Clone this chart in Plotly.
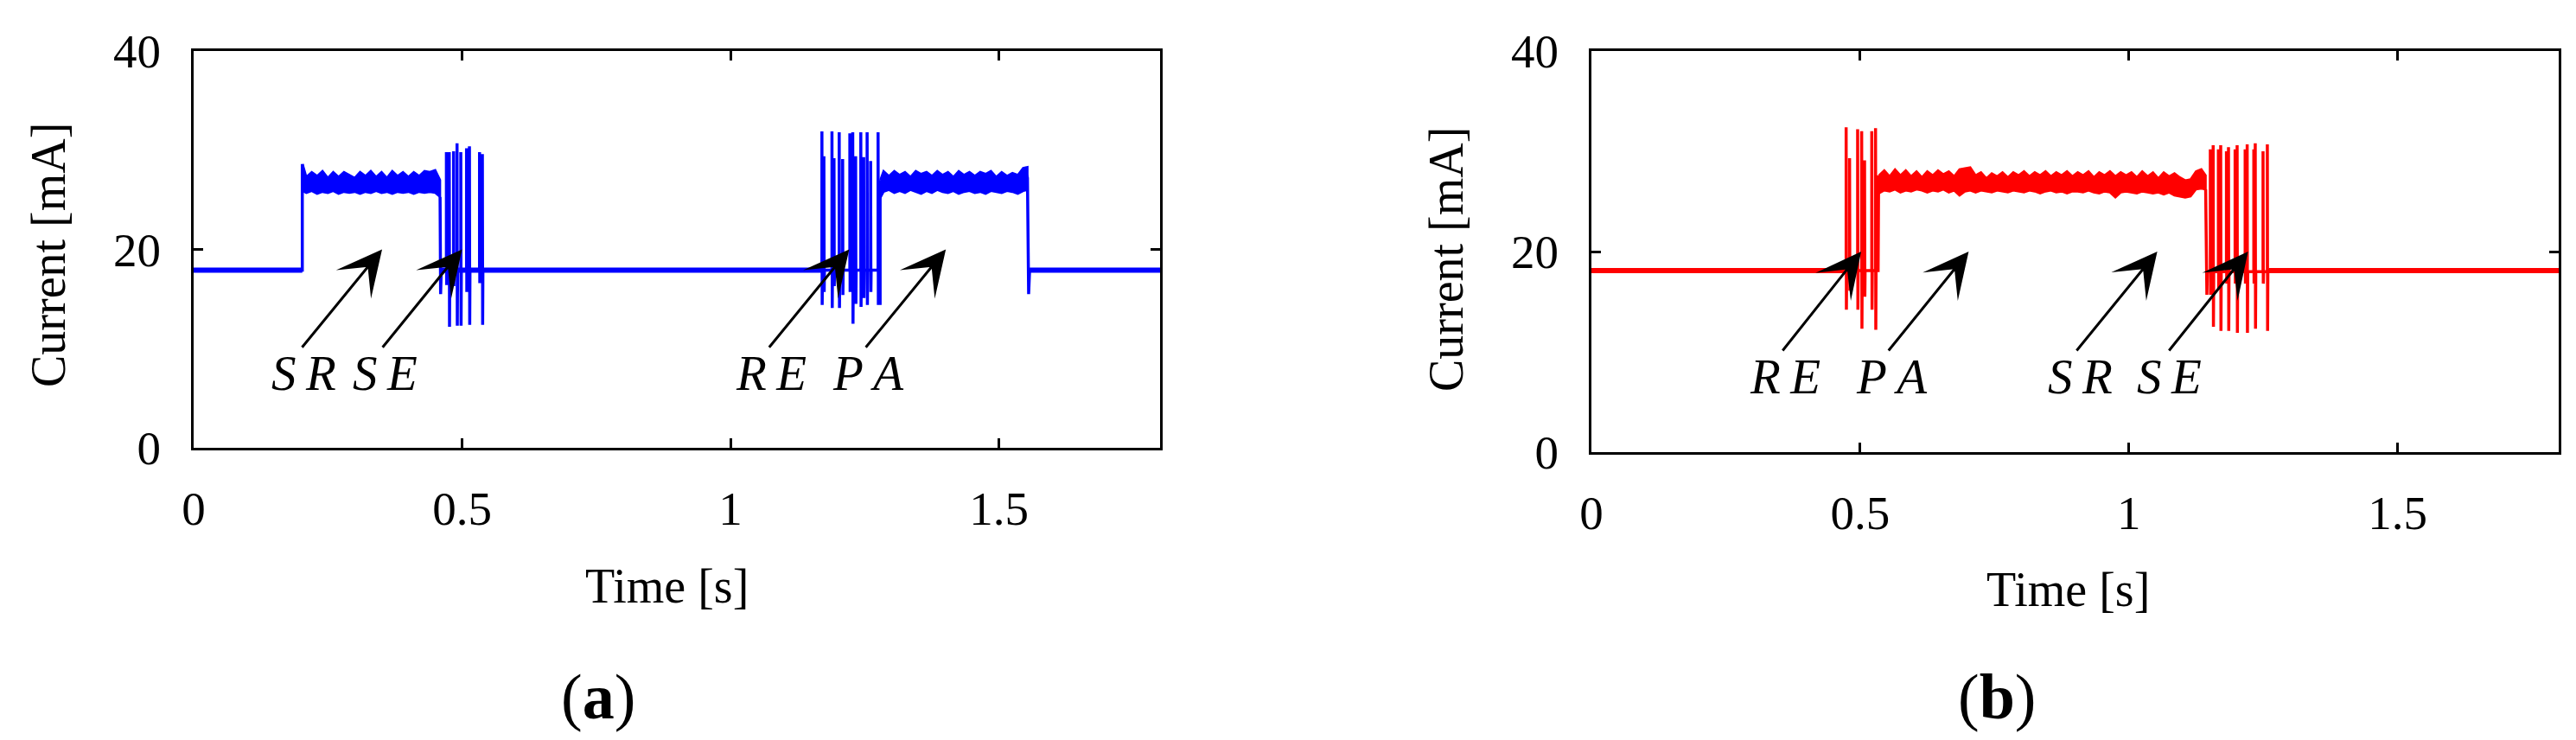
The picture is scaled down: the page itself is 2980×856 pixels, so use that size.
import plotly.graph_objects as go

# ---- data -------------------------------------------------------------
BASE_A = 17.9
BASE_B = 18.1

# flat idle stretches [start, end]
IDLE_A_T0 = [0.0, 0.4612, 1.557]
IDLE_A_T1 = [0.2024, 1.170, 1.8]
IDLE_B_T0 = [0.0, 1.2605]
IDLE_B_T1 = [0.474, 1.8]

# (a) step edges
A_EDGE1_T = [0.0, 0.2024, 0.2024]
A_EDGE1_I = [17.9, 17.9, 28.6]
A_EDGE2_T = [0.459, 0.4600, 0.4612]
A_EDGE2_I = [25.3, 15.5, 17.9]
A_EDGE3_T = [1.2786, 1.2786]
A_EDGE3_I = [14.4, 27.0]
A_EDGE4_T = [1.5466, 1.553, 1.5552, 1.557, 1.8]
A_EDGE4_I = [28.3, 27.2, 15.5, 17.9, 17.9]

# (a) switching bursts: stroke time, top, bottom
SE_A_T = [0.4708, 0.4761, 0.4842, 0.4906, 0.4976, 0.5083, 0.5137, 0.5325, 0.5378]
SE_A_HI = [29.8, 29.8, 29.9, 30.7, 29.8, 30.2, 30.4, 29.8, 29.6]
SE_A_LO = [16.4, 12.2, 16.3, 12.3, 12.3, 15.7, 12.4, 16.6, 12.4]
RE_A_T = [1.1702, 1.1739, 1.1889, 1.1927, 1.2024, 1.2088, 1.2222, 1.2276,
          1.2330, 1.2426, 1.2480, 1.2544, 1.2609, 1.2748]
RE_A_HI = [31.9, 29.4, 31.9, 29.2, 31.8, 29.1, 31.7, 31.8,
           29.4, 31.8, 29.3, 31.8, 28.9, 31.8]
RE_A_LO = [14.4, 15.7, 14.1, 16.3, 14.1, 15.4, 15.7, 12.5,
           14.5, 14.2, 15.1, 14.4, 15.7, 14.4]

# (a) active plateaus: time, upper and lower edge of the noise band
PA1_T = [0.203, 0.21, 0.22, 0.23, 0.24, 0.25, 0.26, 0.27, 0.28, 0.29, 0.30,
         0.31, 0.32, 0.33, 0.34, 0.35, 0.36, 0.37, 0.38, 0.39, 0.40, 0.41,
         0.42, 0.43, 0.44, 0.45, 0.459]
PA1_HI = [28.6, 27.3, 27.8, 27.4, 27.9, 27.2, 27.8, 27.3, 27.8, 27.5, 27.2,
          27.8, 27.4, 27.9, 27.3, 27.8, 27.2, 27.9, 27.4, 27.8, 27.3, 27.8,
          27.4, 27.9, 27.8, 28.0, 27.0]
PA1_LO = [25.9, 25.7, 25.9, 25.6, 25.8, 25.7, 25.9, 25.6, 25.8, 25.7, 25.8,
          25.6, 25.8, 25.7, 25.9, 25.7, 25.8, 25.6, 25.8, 25.7, 25.8, 25.6,
          25.8, 25.7, 25.8, 25.7, 25.3]
PA2_T = [1.279, 1.285, 1.295, 1.305, 1.315, 1.325, 1.335, 1.345, 1.355,
         1.365, 1.375, 1.385, 1.395, 1.405, 1.415, 1.425, 1.435, 1.445,
         1.455, 1.465, 1.475, 1.485, 1.495, 1.505, 1.515, 1.525, 1.535,
         1.545, 1.553]
PA2_HI = [27.0, 27.9, 27.4, 27.9, 27.5, 27.8, 27.3, 27.9, 27.6, 27.8, 27.4,
          27.9, 27.5, 27.8, 27.3, 27.9, 27.5, 27.8, 27.4, 27.8, 27.6, 27.9,
          27.3, 27.8, 27.4, 27.7, 27.5, 28.2, 28.3]
PA2_LO = [25.2, 25.8, 26.0, 25.7, 25.9, 25.7, 26.0, 25.8, 25.6, 25.9, 25.7,
          26.0, 25.8, 25.7, 25.9, 25.6, 25.8, 25.9, 25.7, 25.8, 25.6, 25.9,
          25.8, 25.7, 25.9, 25.8, 25.6, 25.9, 26.0]

# (b) step edges
B_EDGE1_T = [0.0, 0.472]
B_EDGE1_I = [18.1, 18.1]
B_EDGE2_T = [0.5335, 0.5345]
B_EDGE2_I = [18.1, 27.6]
B_EDGE3_T = [1.143, 1.1453, 1.1462]
B_EDGE3_I = [26.2, 15.7, 18.0]
B_EDGE4_T = [1.2605, 1.8]
B_EDGE4_I = [18.1, 18.1]

RE_B_T = [0.4740, 0.4804, 0.4954, 0.5029, 0.5083, 0.5217, 0.5287]
RE_B_HI = [32.4, 29.3, 32.2, 32.0, 29.1, 32.0, 32.3]
RE_B_LO = [14.2, 16.1, 14.2, 12.3, 15.5, 14.2, 12.2]
SE_B_T = [1.1517, 1.1570, 1.1667, 1.1710, 1.1817, 1.1855, 1.1978, 1.2016,
          1.2165, 1.2203, 1.2326, 1.2353, 1.2498, 1.2578]
SE_B_HI = [30.2, 30.6, 30.2, 30.6, 30.0, 30.4, 30.2, 30.6,
           30.2, 30.7, 30.2, 30.8, 30.0, 30.7]
SE_B_LO = [15.7, 12.5, 16.2, 12.1, 16.8, 12.1, 16.8, 11.9,
           16.8, 11.9, 16.8, 12.3, 16.8, 12.1]

PB_T = [0.535, 0.545, 0.555, 0.565, 0.575, 0.585, 0.595, 0.605,
        0.615, 0.625, 0.635, 0.645, 0.655, 0.665, 0.675, 0.685, 0.695,
        0.705, 0.715, 0.725, 0.735, 0.745, 0.755, 0.765, 0.775, 0.785, 0.795,
        0.805, 0.815, 0.825, 0.835, 0.845, 0.855, 0.865, 0.875, 0.885, 0.895,
        0.905, 0.915, 0.925, 0.935, 0.945, 0.955, 0.965, 0.975, 0.985, 0.995,
        1.005, 1.015, 1.025, 1.035, 1.045, 1.055, 1.065, 1.075, 1.085, 1.095,
        1.105, 1.115, 1.125, 1.135, 1.143]
PB_HI = [27.6, 28.1, 27.5, 28.2, 27.6, 28.1, 27.5, 28.0,
         27.4, 28.0, 27.6, 28.1, 27.7, 28.0, 27.5, 28.2, 28.3,
         28.4, 27.6, 27.9, 27.3, 27.8, 27.5, 27.9, 27.4, 27.9, 27.6,
         28.0, 27.5, 27.9, 27.6, 28.0, 27.5, 27.9, 27.6, 28.0, 27.5,
         27.9, 27.6, 28.0, 27.4, 27.9, 27.6, 28.0, 27.5, 27.9, 27.6,
         27.9, 27.4, 28.0, 27.5, 27.9, 27.3, 27.9, 27.5, 27.8, 27.4,
         27.1, 27.2, 28.0, 28.2, 27.6]
PB_LO = [25.8, 26.1, 26.0, 26.2, 25.9, 26.1, 26.0, 26.2,
         26.1, 25.9, 26.1, 26.0, 26.2, 25.9, 26.1, 25.6, 26.0,
         26.1, 25.9, 26.1, 26.0, 25.9, 26.1, 26.0, 25.9, 26.1, 26.0,
         25.9, 26.1, 26.0, 25.8, 26.0, 26.1, 25.9, 26.0, 25.8, 26.0,
         26.0, 25.9, 26.1, 25.9, 25.8, 26.0, 25.9, 25.4, 25.9, 26.0,
         25.9, 25.8, 26.0, 25.9, 25.8, 25.9, 25.7, 25.9, 25.6, 25.5,
         25.4, 25.5, 26.2, 26.3, 26.2]

# arrows (tail -> head) and their labels
ARROW_TAIL_I = 10
ARROW_HEAD_I = 20
LABEL_I = 7.55
ARROW_A_TAIL = [0.200, 0.350, 1.070, 1.250]
ARROW_A_HEAD = [0.351, 0.500, 1.221, 1.401]
LABELS_A = ['SR', 'SE', 'RE', 'PA']
LABEL_A_T = [0.205, 0.356, 1.076, 1.257]
ARROW_B_TAIL = [0.354, 0.551, 0.901, 1.073]
ARROW_B_HEAD = [0.502, 0.702, 1.053, 1.222]
LABELS_B = ['RE', 'PA', 'SR', 'SE']
LABEL_B_T = [0.361, 0.559, 0.909, 1.076]

X_TICKS = [0, 0.5, 1, 1.5]
X_TICKTEXT = ['0', '0.5', '1', '1.5']
Y_TICKS = [0, 20, 40]

SERIF = 'Liberation Serif'
W, H = 2980, 856


def burst(ts, his, los, base):
    """Thin vertical strokes that start and end on the base level."""
    xs, ys = [], []
    for t, hi, lo in zip(ts, his, los):
        xs += [t, t, t + 0.0005, t + 0.001]
        ys += [base, hi, lo, base]
    return xs, ys


def band(ts, his, los):
    return list(ts) + list(ts)[::-1], list(his) + list(los)[::-1]


def idle(t0s, t1s, level):
    xs, ys = [], []
    for a, b in zip(t0s, t1s):
        xs += [a, b, None]
        ys += [level, level, None]
    return xs, ys


fig = go.Figure()


def add_panel(color, xa, ya, idle_xy, path_parts, bands):
    ix, iy = idle_xy
    fig.add_trace(go.Scatter(x=ix, y=iy, mode='lines', xaxis=xa, yaxis=ya,
                             line=dict(color=color, width=6), hoverinfo='skip'))
    for bx, by in bands:
        fig.add_trace(go.Scatter(x=bx, y=by, mode='lines', fill='toself',
                                 fillcolor=color, xaxis=xa, yaxis=ya,
                                 line=dict(color=color, width=2.5), hoverinfo='skip'))
    px, py = [], []
    for xs, ys in path_parts:
        px += list(xs) + [None]
        py += list(ys) + [None]
    fig.add_trace(go.Scatter(x=px, y=py, mode='lines', xaxis=xa, yaxis=ya,
                             line=dict(color=color, width=3.5), hoverinfo='skip'))


# panel (a)
se_a = burst(SE_A_T, SE_A_HI, SE_A_LO, BASE_A)
re_a = burst(RE_A_T, RE_A_HI, RE_A_LO, BASE_A)
add_panel('#0000ff', 'x', 'y', idle(IDLE_A_T0, IDLE_A_T1, BASE_A),
          [(A_EDGE1_T, A_EDGE1_I),
           (A_EDGE2_T + se_a[0] + re_a[0] + A_EDGE3_T,
            A_EDGE2_I + se_a[1] + re_a[1] + A_EDGE3_I),
           (A_EDGE4_T, A_EDGE4_I)],
          [band(PA1_T, PA1_HI, PA1_LO), band(PA2_T, PA2_HI, PA2_LO)])

# panel (b)
re_b = burst(RE_B_T, RE_B_HI, RE_B_LO, BASE_B)
se_b = burst(SE_B_T, SE_B_HI, SE_B_LO, 18.0)
add_panel('#ff0000', 'x2', 'y2', idle(IDLE_B_T0, IDLE_B_T1, BASE_B),
          [(B_EDGE1_T + re_b[0] + B_EDGE2_T, B_EDGE1_I + re_b[1] + B_EDGE2_I),
           (B_EDGE3_T + se_b[0] + B_EDGE4_T, B_EDGE3_I + se_b[1] + B_EDGE4_I)],
          [band(PB_T, PB_HI, PB_LO)])

annotations = []
for xr, yr, tails, heads, labels, lab_t in [
        ('x', 'y', ARROW_A_TAIL, ARROW_A_HEAD, LABELS_A, LABEL_A_T),
        ('x2', 'y2', ARROW_B_TAIL, ARROW_B_HEAD, LABELS_B, LABEL_B_T)]:
    for t0, t1 in zip(tails, heads):
        annotations.append(dict(x=t1, y=ARROW_HEAD_I, ax=t0, ay=ARROW_TAIL_I,
                                xref=xr, yref=yr, axref=xr, ayref=yr, text='',
                                showarrow=True, arrowhead=3, arrowsize=2.9,
                                arrowwidth=3, arrowcolor='black'))
    for lab, t in zip(labels, lab_t):
        # math-italic look: letters set a little apart
        annotations.append(dict(x=t, y=LABEL_I, xref=xr, yref=yr,
                                text='<i>%s\u2009%s</i>' % (lab[0], lab[1]),
                                showarrow=False,
                                font=dict(family=SERIF, size=57, color='black')))


def paper_text(text, px, py, size, angle=0):
    annotations.append(dict(x=px / W, y=1 - py / H, xref='paper', yref='paper',
                            text=text, showarrow=False, textangle=angle,
                            xanchor='center', yanchor='middle',
                            font=dict(family=SERIF, size=size, color='black')))


paper_text('Time [s]', 763, 670, 56)
paper_text('Time [s]', 2384, 674, 56)
paper_text('Current [mA]', 48, 287, 56, -90)
paper_text('Current [mA]', 1665, 292, 56, -90)
paper_text('(<b>a</b>)', 684, 798, 74)
paper_text('(<b>b</b>)', 2302, 798, 74)

axis_common = dict(showline=True, linewidth=3, linecolor='black', mirror='ticks',
                   ticks='inside', ticklen=11, tickwidth=3, tickcolor='black',
                   showgrid=False, zeroline=False, automargin=False,
                   tickfont=dict(family=SERIF, size=55, color='black'))

fig.update_layout(
    width=W, height=H,
    margin=dict(l=0, r=0, t=0, b=0, pad=0, autoexpand=False),
    paper_bgcolor='white', plot_bgcolor='white',
    showlegend=False,
    xaxis=dict(domain=[216 / W, 1334 / W], range=[0, 1.8], tickvals=X_TICKS,
               ticktext=X_TICKTEXT, anchor='y', ticklabelstandoff=20, **axis_common),
    yaxis=dict(domain=[1 - 510 / H, 1 - 51 / H], range=[0, 40], tickvals=Y_TICKS,
               anchor='x', ticklabelstandoff=24, **axis_common),
    xaxis2=dict(domain=[1833 / W, 2952 / W], range=[0, 1.8], tickvals=X_TICKS,
                ticktext=X_TICKTEXT, anchor='y2', ticklabelstandoff=20, **axis_common),
    yaxis2=dict(domain=[1 - 515 / H, 1 - 51 / H], range=[0, 40], tickvals=Y_TICKS,
                anchor='x2', ticklabelstandoff=24, **axis_common),
    annotations=annotations,
)

fig.write_html('out.html')
